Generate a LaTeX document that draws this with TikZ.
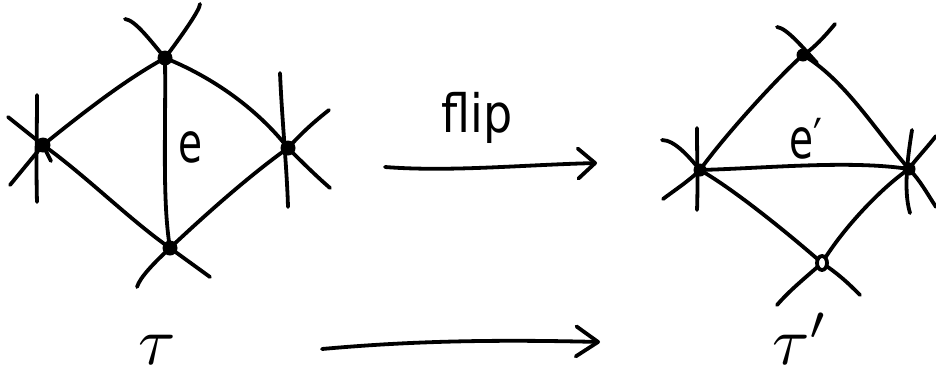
\documentclass[tikz,border=0pt]{standalone}
\usepackage{fontspec}
\newfontfamily\hand{DejaVu Sans}
\usetikzlibrary{arrows.meta}
\newcommand{\bigsym}[1]{\scalebox{6.8}{$#1$}}
\begin{document}
\begin{tikzpicture}[x=1pt,y=-1pt,
  ink/.style={line width=3.8pt, line cap=round, line join=round, black},
  barb/.style={ink, -{Straight Barb[length=#1, width=30pt, round]}},
  lbl/.style={inner sep=0pt, font=\hand\fontsize{46}{50}\selectfont},
  greek/.style={inner sep=0pt, anchor=base west}]
\fill[white] (0,0) rectangle (936,376);
\useasboundingbox (0,0) rectangle (936,376);

% ---------- left quadrilateral ----------
\coordinate (T) at (165,58);
\coordinate (L) at (43,145);
\coordinate (R) at (288,148);
\coordinate (B) at (170,248);
% free ends of the half-edges
\coordinate (Ta) at (125,19);
\coordinate (Tb) at (200,4);
\coordinate (Lv1) at (37,95);
\coordinate (Lv2) at (37,202);
\coordinate (La) at (8,117);
\coordinate (Lat) at (51,161);
\coordinate (Lb) at (10,185);
\coordinate (Rv1) at (280,73);
\coordinate (Rv2) at (288,207);
\coordinate (Ra) at (329,110);
\coordinate (Rb) at (330,188);
\coordinate (Ba) at (137,287);
\coordinate (Bb) at (210,277);

% edges
\draw[ink] (T) .. controls (125,80) and (84,112) .. (L);
\draw[ink] (T) .. controls (200,72) and (250,100) .. (R);
\draw[ink] (L) .. controls (85,175) and (130,220) .. (B);
\draw[ink] (R) .. controls (250,175) and (205,215) .. (B);
\draw[ink] (T) .. controls (166,130) and (162,200) .. (B);
% half-edges
\draw[ink] (Ta) .. controls (135,20) and (150,40) .. (T);
\draw[ink] (Tb) .. controls (200,10) and (180,38) .. (T);
\draw[ink] (Lv1) .. controls (37,130) and (36,170) .. (Lv2);
\draw[ink] (La) -- (L) -- (Lat);
\draw[ink] (Lb) -- (L);
\draw[ink] (Rv1) .. controls (282,120) and (287,170) .. (Rv2);
\draw[ink] (Ra) .. controls (310,125) and (300,135) .. (R);
\draw[ink] (R) .. controls (300,160) and (315,175) .. (Rb);
\draw[ink] (Ba) .. controls (140,277) and (155,262) .. (B);
\draw[ink] (B) -- (Bb);
% vertices
\foreach \v in {T,L,R,B} \fill (\v) circle (7.5pt);
\node[lbl] (e) at (191,147) {\scalebox{0.85}[1.2]{e}};

% ---------- flip arrow ----------
\coordinate (F1) at (385,167);
\coordinate (F2) at (597,163);
\draw[barb=17pt] (F1) .. controls (450,172) and (520,165) .. (F2);
\node[lbl, anchor=base] (flip) at (477,132) {\scalebox{1}[1.15]{flip}};

% ---------- right quadrilateral ----------
\coordinate (T2) at (803,55);
\coordinate (L2) at (700,170);
\coordinate (R2) at (909,169);
\coordinate (B2) at (822,263);
\coordinate (T2a) at (777,27);
\coordinate (T2b) at (835,24);
\coordinate (L2v1) at (697,128);
\coordinate (L2v2) at (697,210);
\coordinate (L2a) at (662,140);
\coordinate (L2b) at (663,199);
\coordinate (R2v1) at (912,130);
\coordinate (R2v2) at (910,213);
\coordinate (R2a) at (936,136);
\coordinate (R2b) at (936,207);
\coordinate (B2a) at (777,305);
\coordinate (B2b) at (860,295);

\draw[ink] (T2) .. controls (780,75) and (725,135) .. (L2);
\draw[ink] (T2) .. controls (845,80) and (875,130) .. (R2);
\draw[ink] (L2) .. controls (770,168) and (850,160) .. (R2);
\draw[ink] (L2) .. controls (735,190) and (790,235) .. (B2);
\draw[ink] (R2) .. controls (885,185) and (845,225) .. (B2);
\draw[ink] (T2a) .. controls (787,28) and (805,50) .. (817,63);
\draw[ink] (T2b) .. controls (830,30) and (815,48) .. (T2);
\draw[ink] (L2v1) .. controls (697,160) and (698,185) .. (L2v2);
\draw[ink] (L2a) .. controls (675,140) and (690,158) .. (L2);
\draw[ink] (L2b) .. controls (675,190) and (690,180) .. (L2);
\draw[ink] (R2v1) .. controls (908,155) and (903,190) .. (R2v2);
\draw[ink] (R2a) .. controls (925,150) and (915,160) .. (R2);
\draw[ink] (R2) .. controls (920,180) and (928,195) .. (R2b);
\draw[ink] (B2a) .. controls (790,290) and (805,278) .. (B2);
\draw[ink] (B2) .. controls (840,275) and (850,285) .. (B2b);
\foreach \v in {T2,L2,R2} \fill (\v) circle (6.5pt);
\fill[white] (B2) ellipse (5pt and 7pt);
\draw[ink] (B2) ellipse (5pt and 7pt);
\node[lbl] (e2) at (806,139) {\scalebox{0.85}[1.2]{e′}};

% ---------- bottom arrow and labels ----------
\coordinate (A1) at (322,349);
\coordinate (A2) at (600,342);
\draw[barb=22pt] (A1) .. controls (400,342) and (480,339) .. (A2);
\node[greek] (tau) at (138,364) {\bigsym{\tau}};
\node[greek] (tau2) at (772,364) {\bigsym{\tau'}};
\end{tikzpicture}
\end{document}
